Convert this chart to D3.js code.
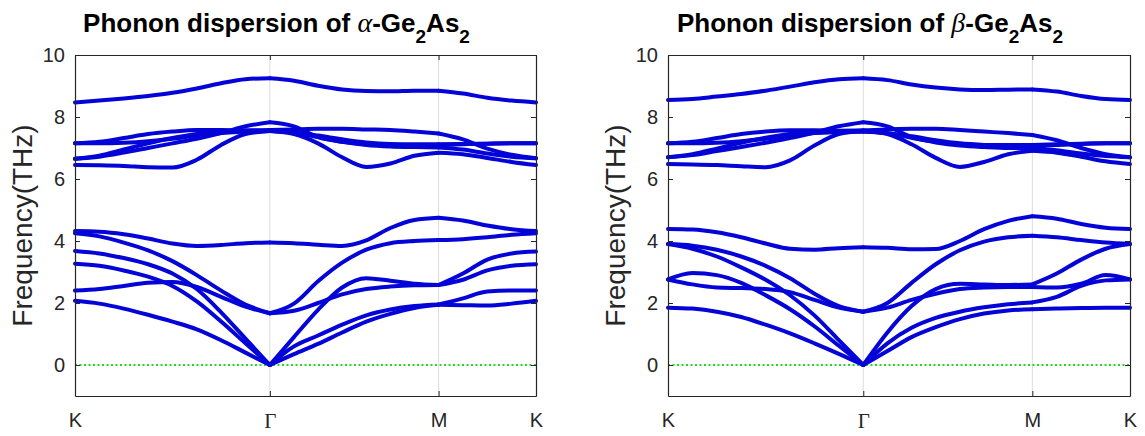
<!DOCTYPE html>
<html>
<head>
<meta charset="utf-8">
<script src="https://cdn.jsdelivr.net/npm/d3@7"></script>
<style>
  body { margin: 0; background: #fff; }
  svg { display: block; font-family: "Liberation Sans", Arial, sans-serif; }
</style>
</head>
<body>
<svg id="chart" width="1145" height="436"></svg>
<script>
// high symmetry path K - Gamma - M - K
const kLabels = ["K", "\u0393", "M", "K"];
const kTicks = [0, 0.6667, 1.2440, 1.5774];
const qDist = [0, 0.0833, 0.1667, 0.2500, 0.3333, 0.4167, 0.5000, 0.5833, 0.6667,
               0.7492, 0.8316, 0.9141, 0.9966, 1.0791, 1.1615, 1.2440,
               1.3274, 1.4107, 1.4941, 1.5774];
const yTicks = [0, 2, 4, 6, 8, 10];

// alpha-Ge2As2 bands (THz), one row per band
const alphaBands = [
  [8.47, 8.53, 8.60, 8.68, 8.78, 8.92, 9.09, 9.22, 9.25, 9.17, 9.01, 8.89, 8.84, 8.83, 8.85, 8.85, 8.76, 8.62, 8.53, 8.47],
  [6.45, 6.44, 6.42, 6.38, 6.37, 6.62, 7.10, 7.45, 7.55, 7.45, 7.15, 6.70, 6.39, 6.50, 6.75, 6.85, 6.80, 6.68, 6.55, 6.45],
  [6.65, 6.72, 6.85, 7.00, 7.15, 7.30, 7.48, 7.70, 7.83, 7.70, 7.35, 7.20, 7.13, 7.10, 7.10, 7.10, 7.12, 7.14, 7.15, 7.15],
  [7.15, 7.20, 7.32, 7.45, 7.53, 7.58, 7.58, 7.57, 7.58, 7.60, 7.62, 7.62, 7.60, 7.58, 7.53, 7.47, 7.28, 6.98, 6.78, 6.67],
  [7.15, 7.15, 7.17, 7.22, 7.30, 7.40, 7.48, 7.53, 7.55, 7.50, 7.40, 7.28, 7.18, 7.13, 7.12, 7.12, 7.13, 7.14, 7.15, 7.15],
  [6.65, 6.75, 6.95, 7.15, 7.32, 7.45, 7.52, 7.55, 7.56, 7.50, 7.35, 7.20, 7.10, 7.05, 7.03, 7.02, 6.95, 6.82, 6.72, 6.67],
  [4.32, 4.30, 4.22, 4.08, 3.92, 3.84, 3.87, 3.93, 3.95, 3.93, 3.88, 3.84, 4.02, 4.42, 4.68, 4.75, 4.66, 4.50, 4.38, 4.32],
  [4.25, 4.15, 3.95, 3.70, 3.35, 2.90, 2.40, 1.95, 1.67, 1.98, 2.70, 3.30, 3.72, 3.93, 4.00, 4.03, 4.06, 4.12, 4.20, 4.25],
  [3.68, 3.60, 3.45, 3.25, 2.95, 2.45, 1.70, 0.85, 0.00, 0.90, 1.78, 2.50, 2.80, 2.72, 2.62, 2.58, 2.95, 3.40, 3.60, 3.66],
  [2.40, 2.45, 2.55, 2.65, 2.68, 2.52, 2.20, 1.88, 1.67, 1.75, 2.00, 2.28, 2.45, 2.53, 2.57, 2.58, 2.75, 3.05, 3.20, 3.25],
  [3.27, 3.20, 3.05, 2.85, 2.55, 2.05, 1.40, 0.70, 0.00, 0.60, 0.95, 1.30, 1.60, 1.79, 1.90, 1.95, 2.15, 2.37, 2.40, 2.40],
  [2.07, 1.98, 1.82, 1.62, 1.40, 1.15, 0.80, 0.40, 0.00, 0.35, 0.68, 1.05, 1.40, 1.65, 1.84, 1.94, 1.93, 1.92, 1.98, 2.07]
];

// beta-Ge2As2 bands (THz)
const betaBands = [
  [8.55, 8.58, 8.66, 8.74, 8.85, 8.98, 9.12, 9.22, 9.25, 9.19, 9.05, 8.95, 8.89, 8.87, 8.88, 8.89, 8.82, 8.68, 8.58, 8.55],
  [6.48, 6.47, 6.45, 6.41, 6.38, 6.60, 7.08, 7.45, 7.55, 7.45, 7.12, 6.68, 6.39, 6.55, 6.80, 6.91, 6.85, 6.72, 6.57, 6.48],
  [6.70, 6.77, 6.90, 7.03, 7.17, 7.32, 7.50, 7.70, 7.83, 7.70, 7.35, 7.20, 7.12, 7.10, 7.10, 7.10, 7.12, 7.14, 7.15, 7.15],
  [7.15, 7.20, 7.32, 7.45, 7.53, 7.57, 7.57, 7.56, 7.57, 7.60, 7.62, 7.62, 7.58, 7.53, 7.48, 7.42, 7.25, 7.00, 6.80, 6.70],
  [7.15, 7.15, 7.17, 7.22, 7.30, 7.40, 7.48, 7.52, 7.53, 7.48, 7.38, 7.25, 7.15, 7.10, 7.08, 7.08, 7.10, 7.13, 7.15, 7.15],
  [6.70, 6.80, 6.98, 7.17, 7.33, 7.45, 7.50, 7.52, 7.53, 7.48, 7.33, 7.18, 7.08, 7.03, 7.00, 7.00, 6.93, 6.82, 6.74, 6.70],
  [4.39, 4.37, 4.28, 4.12, 3.92, 3.75, 3.72, 3.77, 3.80, 3.78, 3.73, 3.74, 4.00, 4.38, 4.65, 4.80, 4.72, 4.55, 4.43, 4.39],
  [3.90, 3.85, 3.72, 3.50, 3.20, 2.80, 2.30, 1.90, 1.72, 2.00, 2.65, 3.25, 3.70, 3.98, 4.12, 4.17, 4.12, 4.03, 3.95, 3.90],
  [3.90, 3.75, 3.50, 3.15, 2.75, 2.25, 1.60, 0.80, 0.00, 1.05, 1.90, 2.45, 2.62, 2.60, 2.58, 2.60, 2.95, 3.40, 3.75, 3.90],
  [2.76, 2.60, 2.50, 2.48, 2.45, 2.35, 2.10, 1.85, 1.72, 1.85, 2.10, 2.30, 2.45, 2.50, 2.52, 2.52, 2.50, 2.62, 2.90, 2.76],
  [2.76, 2.97, 2.90, 2.65, 2.25, 1.80, 1.25, 0.62, 0.00, 0.70, 1.20, 1.52, 1.72, 1.86, 1.96, 2.02, 2.20, 2.55, 2.73, 2.76],
  [1.85, 1.82, 1.72, 1.55, 1.30, 1.02, 0.70, 0.36, 0.00, 0.45, 0.90, 1.22, 1.48, 1.66, 1.76, 1.80, 1.82, 1.84, 1.85, 1.85]
];

const segments = [[0, 8], [8, 15], [15, 19]];

function createBandPlot(svg_name, bands, greek, left, right, top = 55, bottom = 396) {
    const svg = d3.select("#" + svg_name);
    const width = right - left;

    const xScale = d3.scaleLinear()
        .domain([kTicks[0], kTicks[kTicks.length - 1]])
        .range([left, right]);
    const yScale = d3.scaleLinear()
        .domain([-1, 10])
        .range([bottom, top]);

    const g = svg.append("g");

    // vertical grid at the inner high-symmetry points
    g.selectAll(".vgrid")
        .data(kTicks.slice(1, -1))
        .enter()
            .append("line")
            .attr("x1", d => xScale(d))
            .attr("x2", d => xScale(d))
            .attr("y1", top)
            .attr("y2", bottom)
            .attr("stroke", "#dcdcdc")
            .attr("stroke-width", 1);

    // zero line
    g.append("line")
        .attr("x1", xScale.range()[0])
        .attr("x2", xScale.range()[1])
        .attr("y1", yScale(0))
        .attr("y2", yScale(0))
        .attr("stroke", "#22d822")
        .attr("stroke-width", 2.2)
        .attr("stroke-dasharray", "2,2.5");

    const line = d3.line()
        .x(d => xScale(d[0]))
        .y(d => yScale(d[1]))
        .curve(d3.curveMonotoneX);

    const pieces = [];
    bands.forEach(b => {
        segments.forEach(([s, e]) => {
            pieces.push(d3.range(s, e + 1).map(i => [qDist[i], b[i]]));
        });
    });

    g.selectAll(".band")
        .data(pieces)
        .enter()
            .append("path")
            .attr("class", "band")
            .attr("d", line)
            .attr("fill", "none")
            .attr("stroke", "#0404d8")
            .attr("stroke-width", 4)
            .attr("stroke-linecap", "round")
            .attr("stroke-linejoin", "round");

    // axes, ticks pointing inward
    const axisColor = "#262626";
    const yAxis = g.append("g")
        .attr("transform", `translate(${left}, 0)`)
        .call(d3.axisLeft(yScale).tickValues(yTicks).tickSize(-5).tickSizeOuter(0).tickPadding(10));
    const yAxisR = g.append("g")
        .attr("transform", `translate(${right}, 0)`)
        .call(d3.axisRight(yScale).tickValues(yTicks).tickSize(-5).tickSizeOuter(0).tickFormat(""));
    const xAxis = g.append("g")
        .attr("transform", `translate(0, ${bottom})`)
        .call(d3.axisBottom(xScale).tickValues(kTicks).tickSize(-5).tickSizeOuter(0).tickPadding(17)
            .tickFormat((d, i) => kLabels[i]));
    const xAxisT = g.append("g")
        .attr("transform", `translate(0, ${top})`)
        .call(d3.axisTop(xScale).tickValues(kTicks).tickSize(-5).tickSizeOuter(0).tickFormat(""));

    [yAxis, yAxisR, xAxis, xAxisT].forEach(a => {
        a.select(".domain").attr("stroke", axisColor).attr("stroke-width", 1.2);
        a.selectAll(".tick line").attr("stroke", axisColor);
        a.selectAll("text")
            .attr("fill", axisColor)
            .attr("font-size", 20)
            .attr("font-family", "'Liberation Sans', Arial, sans-serif");
    });
    xAxis.selectAll("text")
        .filter(d => d === kTicks[1])
        .attr("font-family", "'Liberation Serif', 'Times New Roman', serif")
        .attr("font-size", 21);

    // y label
    g.append("text")
        .text("Frequency(THz)")
        .attr("transform", "rotate(-90)")
        .attr("x", -(top + bottom) / 2)
        .attr("y", left - 43)
        .attr("text-anchor", "middle")
        .attr("font-size", 28)
        .attr("fill", axisColor);

    // title
    const title = g.append("text")
        .attr("x", left + width / 2 - 29)
        .attr("y", 32)
        .attr("text-anchor", "middle")
        .attr("font-size", 26)
        .attr("font-weight", "bold")
        .attr("fill", "#000")
        .style("white-space", "pre");
    title.append("tspan").text("Phonon dispersion of ");
    title.append("tspan")
        .text(greek)
        .attr("font-family", "'Liberation Serif', 'Times New Roman', serif")
        .attr("font-style", "italic")
        .attr("font-weight", "normal")
        .attr("font-size", 28);
    title.append("tspan").text("-Ge");
    title.append("tspan").text("2").attr("font-size", 19).attr("dy", 11);
    title.append("tspan").text("As").attr("dy", -11);
    title.append("tspan").text("2").attr("font-size", 19).attr("dy", 11);
}

createBandPlot("chart", alphaBands, "\u03b1", 75, 536);
createBandPlot("chart", betaBands, "\u03b2", 668, 1130);
</script>
</body>
</html>
